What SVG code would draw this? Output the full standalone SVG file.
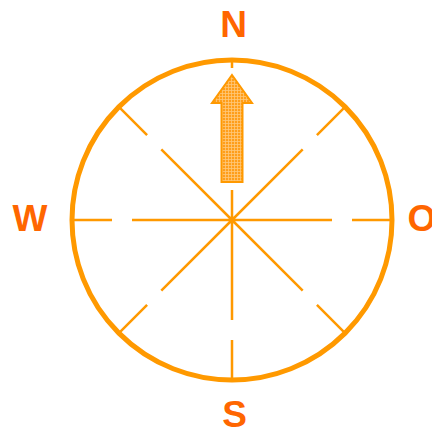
<svg xmlns="http://www.w3.org/2000/svg" width="432" height="432" viewBox="0 0 432 432">
<style>
.ring{fill:none;stroke:#FF9900;stroke-width:5}
.ln{stroke:#FF9900;stroke-width:2.5;fill:none}
.lbl{font-family:"Liberation Sans",Arial,sans-serif;font-weight:bold;font-size:37px;fill:#FF6600;text-anchor:middle}
.arrow{fill:url(#mesh);stroke:#FF9900;stroke-width:2}
</style>
<defs>
<pattern id="mesh" width="3" height="3" patternUnits="userSpaceOnUse">
<rect width="3" height="3" fill="#FF9E1A"/>
<path d="M0 0.5H3M0.5 0V3" stroke="#FFC878" stroke-width="0.8"/>
</pattern>
</defs>
<g id="dial">
<circle class="ring" cx="232" cy="220" r="160"/>
</g>
<g id="connectors">
<path class="ln" d="M232 220V190M232 60V68M232 220V320M232 340V380M232 220H132M112 220H72M232 220H332M352 220H392M232 220L161.3 149.3M147.1 135.1L118.9 106.9M232 220L302.7 149.3M316.9 135.1L345.1 106.9M232 220L161.3 290.7M147.1 304.9L118.9 333.1M232 220L302.7 290.7M316.9 304.9L345.1 333.1"/>
</g>
<g id="arrow">
<path class="arrow" d="M232 75L252 103H242.5V182H221.5V103H212Z"/>
</g>
<g id="labels">
<text class="lbl" x="233.5" y="37">N</text>
<text class="lbl" x="30" y="231">W</text>
<text class="lbl" x="422" y="231">O</text>
<text class="lbl" x="234.5" y="427">S</text>
</g>
</svg>
